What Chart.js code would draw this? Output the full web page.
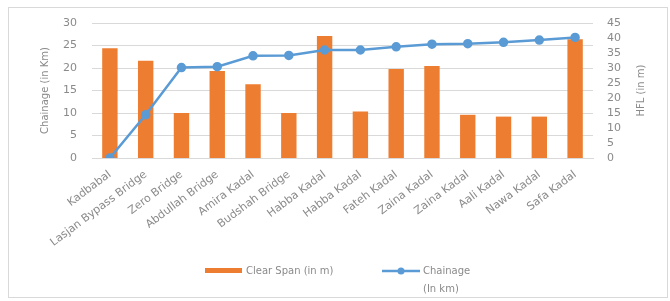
<!DOCTYPE html>
<html>
<head>
<meta charset="utf-8">
<script src="https://cdn.jsdelivr.net/npm/chart.js@4/dist/chart.umd.min.js"></script>
<style>
  html, body { margin: 0; padding: 0; background: #fff; }
  #wrap { width: 670px; height: 301px; position: relative; }
</style>
</head>
<body>
<div id="wrap"><canvas id="grafica"></canvas></div>
<script>
// datos
const puentes = ['Kadbabal', 'Lasjan Bypass Bridge', 'Zero Bridge', 'Abdullah Bridge', 'Amira Kadal',
    'Budshah Bridge', 'Habba Kadal', 'Habba Kadal', 'Fateh Kadal', 'Zaina Kadal', 'Zaina Kadal',
    'Aali Kadal', 'Nawa Kadal', 'Safa Kadal'];
const claroLibre = [36.6, 32.4, 15, 29, 24.6, 15, 40.7, 15.5, 29.7, 30.7, 14.4, 13.8, 13.8, 39.6];
const chainage = [0, 9.6, 20.1, 20.3, 22.7, 22.8, 24, 24, 24.7, 25.3, 25.4, 25.7, 26.2, 26.8];
const ticksIzq = [0, 5, 10, 15, 20, 25, 30];
const ticksDer = [0, 5, 10, 15, 20, 25, 30, 35, 40, 45];

const NARANJA = '#ED7D31';
const AZUL = '#5B9BD5';
const GRIS = '#8a8a8a';
const FUENTE = 'DejaVu Sans, sans-serif';

// marco, titulos de ejes y leyenda
const decoracion = {
    id: 'decoracion',
    beforeDraw(chart) {
        const ctx = chart.ctx;
        ctx.save();
        ctx.strokeStyle = '#d9d9d9';
        ctx.lineWidth = 1;
        ctx.strokeRect(8.5, 7.5, 659, 290);
        ctx.restore();
    },
    afterDraw(chart) {
        const ctx = chart.ctx;
        ctx.save();
        ctx.fillStyle = GRIS;
        ctx.font = '10px ' + FUENTE;
        ctx.textAlign = 'center';
        ctx.textBaseline = 'middle';
        const yMid = (chart.chartArea.top + chart.chartArea.bottom) / 2;

        ctx.save();
        ctx.translate(45, yMid);
        ctx.rotate(-Math.PI / 2);
        ctx.fillText('Chainage (in Km)', 0, 0);
        ctx.restore();

        ctx.save();
        ctx.translate(641, yMid);
        ctx.rotate(-Math.PI / 2);
        ctx.fillText('HFL (in m)', 0, 0);
        ctx.restore();

        // leyenda
        ctx.textAlign = 'left';
        ctx.fillStyle = NARANJA;
        ctx.fillRect(205, 268, 37, 5);
        ctx.fillStyle = GRIS;
        ctx.fillText('Clear Span (in m)', 246, 271);

        ctx.strokeStyle = AZUL;
        ctx.lineWidth = 2.5;
        ctx.beginPath();
        ctx.moveTo(382, 271);
        ctx.lineTo(420, 271);
        ctx.stroke();
        ctx.fillStyle = AZUL;
        ctx.beginPath();
        ctx.arc(401, 271, 3.5, 0, Math.PI * 2);
        ctx.fill();
        ctx.fillStyle = GRIS;
        ctx.fillText('Chainage', 423, 271);
        ctx.fillText('(In km)', 423, 289);
        ctx.restore();
    }
};

new Chart(document.getElementById('grafica'), {
    data: {
        labels: puentes,
        datasets: [
            {
                type: 'line',
                label: 'Chainage (In km)',
                data: chainage,
                yAxisID: 'y',
                borderColor: AZUL,
                backgroundColor: AZUL,
                borderWidth: 2.5,
                pointRadius: 3.5,
                pointBackgroundColor: AZUL,
                pointBorderColor: AZUL,
                tension: 0,
                order: 0
            },
            {
                type: 'bar',
                label: 'Clear Span (in m)',
                data: claroLibre,
                yAxisID: 'y1',
                backgroundColor: NARANJA,
                categoryPercentage: 1,
                barPercentage: 0.43,
                order: 1
            }
        ]
    },
    options: {
        responsive: true,
        maintainAspectRatio: false,
        animation: false,
        layout: { padding: { top: 23, left: 0, right: 0, bottom: 0 } },
        plugins: {
            legend: { display: false },
            tooltip: { enabled: false }
        },
        scales: {
            x: {
                grid: { display: false },
                border: { display: true, color: '#d9d9d9' },
                ticks: {
                    color: GRIS,
                    font: { family: FUENTE, size: 11 },
                    minRotation: 37,
                    maxRotation: 37,
                    autoSkip: false,
                    padding: 2
                },
                afterFit: s => { s.height = 143; }
            },
            y: {
                position: 'left',
                min: 0,
                max: 30,
                afterBuildTicks: s => { s.ticks = ticksIzq.map(v => ({ value: v })); },
                grid: { color: '#d9d9d9', drawTicks: false },
                border: { display: false },
                ticks: { color: GRIS, font: { family: FUENTE, size: 11 }, padding: 15, autoSkip: false },
                afterFit: s => { s.width = 92; }
            },
            y1: {
                position: 'right',
                min: 0,
                max: 45,
                afterBuildTicks: s => { s.ticks = ticksDer.map(v => ({ value: v })); },
                grid: { display: false, drawTicks: false },
                border: { display: false },
                ticks: { color: GRIS, font: { family: FUENTE, size: 11 }, padding: 14, autoSkip: false },
                afterFit: s => { s.width = 77; }
            }
        }
    },
    plugins: [decoracion]
});
</script>
</body>
</html>
